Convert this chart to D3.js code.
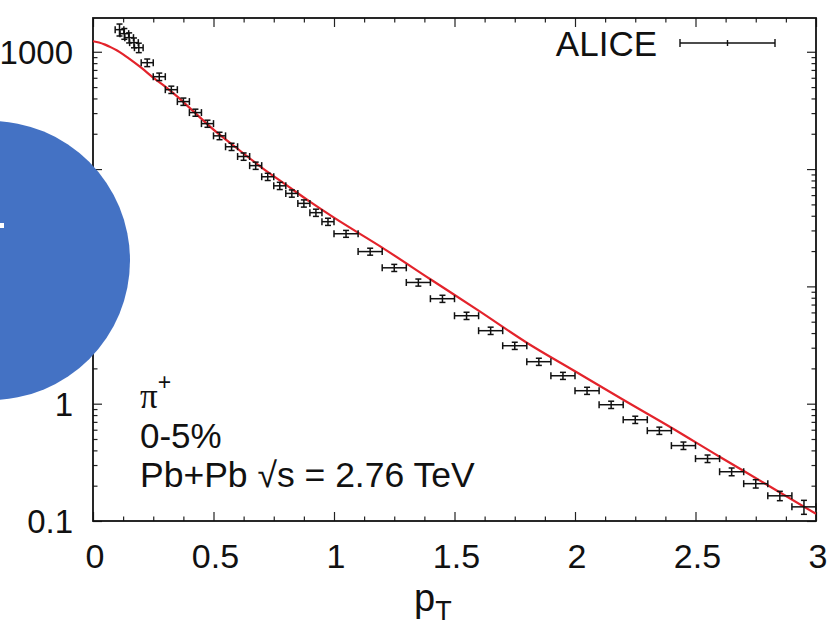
<!DOCTYPE html>
<html><head><meta charset="utf-8">
<script src="https://cdn.jsdelivr.net/npm/d3@7"></script>
<style>
body{margin:0;background:#fff}
svg{display:block}
text{font-family:"Liberation Sans",Arial,Helvetica,sans-serif;fill:#111}
</style></head>
<body><svg id="c" width="833" height="634"></svg>
<script>
// ---- data ----
const dataPt = [0.11,0.13,0.15,0.17,0.19,
  0.225,0.275,0.325,0.375,0.425,0.475,0.525,0.575,0.625,0.675,0.725,0.775,0.825,0.875,0.925,0.975,
  1.05,1.15,1.25,1.35,1.45,1.55,1.65,1.75,1.85,1.95,2.05,2.15,2.25,2.35,2.45,2.55,2.65,2.75,2.85,2.95];
const dataVal = [1543,1427,1319,1196,1083,
  807,613,475,376,303,244,192,155,128,107,86,72,62,51,42.5,35.6,
  28.1,19.8,14.4,10.8,7.85,5.62,4.19,3.12,2.28,1.73,1.29,0.98,0.73,0.589,0.439,0.340,0.263,0.208,0.164,0.132];
const dataXerr = [0.018,0.018,0.018,0.018,0.018,
  0.025,0.025,0.025,0.025,0.025,0.025,0.025,0.025,0.025,0.025,0.025,0.025,0.025,0.025,0.025,0.025,
  0.05,0.05,0.05,0.05,0.05,0.05,0.05,0.05,0.05,0.05,0.05,0.05,0.05,0.05,0.05,0.05,0.05,0.05,0.05,0.05];
const dataYerr = [180,150,130,115,100,
  60,45,34,27,21,17,14,11,9.2,7.6,6.1,5.1,4.4,3.6,3.0,2.5,
  1.9,1.35,1.0,0.75,0.55,0.4,0.3,0.22,0.16,0.12,0.09,0.07,0.052,0.042,0.032,0.025,0.02,0.017,0.015,0.018];
const modelPt = [0,0.025,0.05,0.075,0.1,0.125,0.15,0.2,0.25,0.3,0.35,0.4,0.5,0.6,0.7,0.8,0.9,1.0,1.2,1.4,1.6,1.8,2.0,2.2,2.4,2.6,2.8,3.0];
const modelVal = [1230,1200,1150,1090,1025,950,873,731,601,504,414,334,217,149,103,73.6,52.7,38.5,21.4,11.5,6.21,3.31,1.89,1.08,0.624,0.353,0.202,0.115];
const xTicks = [0,0.5,1,1.5,2,2.5,3];
const xTickLabels = ["0","0.5","1","1.5","2","2.5","3"];
const xMinor = [0.125,0.25,0.375,0.625,0.75,0.875,1.125,1.25,1.375,1.625,1.75,1.875,2.125,2.25,2.375,2.625,2.75,2.875];
const yTicks = [0.1,1,10,100,1000];
const yTickLabels = ["0.1","1","10","100","1000"];
const yMinor = [0.2,0.3,0.4,0.5,0.6,0.7,0.8,0.9,2,3,4,5,6,7,8,9,20,30,40,50,60,70,80,90,200,300,400,500,600,700,800,900];
const legendLabel = "ALICE";
const infoLines = ["0-5%","Pb+Pb \u221As = 2.76 TeV"];

// ---- layout ----
const L=93,R=816,T=18,B=521;
const svg=d3.select('#c');
const x=d3.scaleLinear().domain([0,3]).range([L,R]);
const y=d3.scaleLog().domain([0.1,1940]).range([B,T]);

svg.append('defs').append('clipPath').attr('id','clip')
  .append('rect').attr('x',L).attr('y',T).attr('width',R-L).attr('height',B-T);

function ticks(axisFn, pos, vals, size){
  const g=svg.append('g').attr('transform',pos)
    .call(axisFn.tickValues(vals).tickSize(size).tickFormat(''));
  g.select('.domain').remove();
  g.selectAll('line').attr('stroke','#222').attr('stroke-width',1.2);
}
ticks(d3.axisBottom(x),`translate(0,${B})`,xTicks,-9);
ticks(d3.axisBottom(x),`translate(0,${B})`,xMinor,-4.5);
ticks(d3.axisTop(x),`translate(0,${T})`,xTicks,-9);
ticks(d3.axisTop(x),`translate(0,${T})`,xMinor,-4.5);
ticks(d3.axisLeft(y),`translate(${L},0)`,yTicks,-9);
ticks(d3.axisLeft(y),`translate(${L},0)`,yMinor,-4.5);
ticks(d3.axisRight(y),`translate(${R},0)`,yTicks,-9);
ticks(d3.axisRight(y),`translate(${R},0)`,yMinor,-4.5);

svg.append('rect').attr('x',L).attr('y',T).attr('width',R-L).attr('height',B-T)
  .attr('fill','none').attr('stroke','#111').attr('stroke-width',1.8);

svg.append('g').selectAll('text').data(xTicks).join('text')
  .attr('x',d=>x(d)+2).attr('y',568).attr('text-anchor','middle')
  .attr('font-size',34).text((d,i)=>xTickLabels[i]);
svg.append('g').selectAll('text').data(yTicks).join('text')
  .attr('x',73).attr('y',d=>y(d)).attr('dy','0.36em').attr('text-anchor','end')
  .attr('font-size',33).text((d,i)=>yTickLabels[i]);

const xt=svg.append('text').attr('x',414).attr('y',611).attr('font-size',38);
xt.append('tspan').text('p');
xt.append('tspan').attr('font-size',27).attr('dy',9).text('T');

const md=modelPt.map((p,i)=>[p,modelVal[i]]);
svg.append('path').datum(md).attr('clip-path','url(#clip)')
  .attr('fill','none').attr('stroke','#e3232b').attr('stroke-width',2.2)
  .attr('stroke-linejoin','round')
  .attr('d',d3.line().x(d=>x(d[0])).y(d=>y(d[1])).curve(d3.curveMonotoneX));

const pts=dataPt.map((p,i)=>({p,v:dataVal[i],xe:dataXerr[i],ye:dataYerr[i]}));
const eg=svg.append('g').attr('stroke','#111').attr('stroke-width',1.5).attr('fill','none');
pts.forEach(d=>{
  const cx=x(d.p), cy=y(d.v);
  const x1=x(d.p-d.xe), x2=x(d.p+d.xe);
  const y1=y(d.v+d.ye), y2=y(d.v-d.ye);
  eg.append('line').attr('x1',x1).attr('x2',x2).attr('y1',cy).attr('y2',cy);
  eg.append('line').attr('x1',x1).attr('x2',x1).attr('y1',cy-3.5).attr('y2',cy+3.5);
  eg.append('line').attr('x1',x2).attr('x2',x2).attr('y1',cy-3.5).attr('y2',cy+3.5);
  eg.append('line').attr('x1',cx).attr('x2',cx).attr('y1',y1).attr('y2',y2);
  eg.append('line').attr('x1',cx-3).attr('x2',cx+3).attr('y1',y1).attr('y2',y1);
  eg.append('line').attr('x1',cx-3).attr('x2',cx+3).attr('y1',y2).attr('y2',y2);
});

svg.append('text').attr('x',657).attr('y',56).attr('text-anchor','end').attr('font-size',35).text(legendLabel);
const lg=svg.append('g').attr('stroke','#111').attr('stroke-width',1.4);
lg.append('line').attr('x1',680).attr('x2',775).attr('y1',43).attr('y2',43);
lg.append('line').attr('x1',680).attr('x2',680).attr('y1',39).attr('y2',47);
lg.append('line').attr('x1',775).attr('x2',775).attr('y1',39).attr('y2',47);
lg.append('line').attr('x1',727.5).attr('x2',727.5).attr('y1',40).attr('y2',46);

const pi=svg.append('text').attr('x',140).attr('y',408).attr('font-size',35);
pi.append('tspan').attr('font-family','"Liberation Serif","DejaVu Serif",serif').text('\u03C0');
pi.append('tspan').attr('font-size',23).attr('dy',-18).text('+');
svg.append('text').attr('x',140).attr('y',448).attr('font-size',35).text(infoLines[0]);
svg.append('text').attr('x',140).attr('y',487).attr('font-size',35.5).text(infoLines[1]);

svg.append('circle').attr('cx',-9.5).attr('cy',260.5).attr('r',139.5).attr('fill','#4472C4');
svg.append('rect').attr('x',0).attr('y',223).attr('width',4).attr('height',5).attr('fill','#fff');
</script>
</body></html>
